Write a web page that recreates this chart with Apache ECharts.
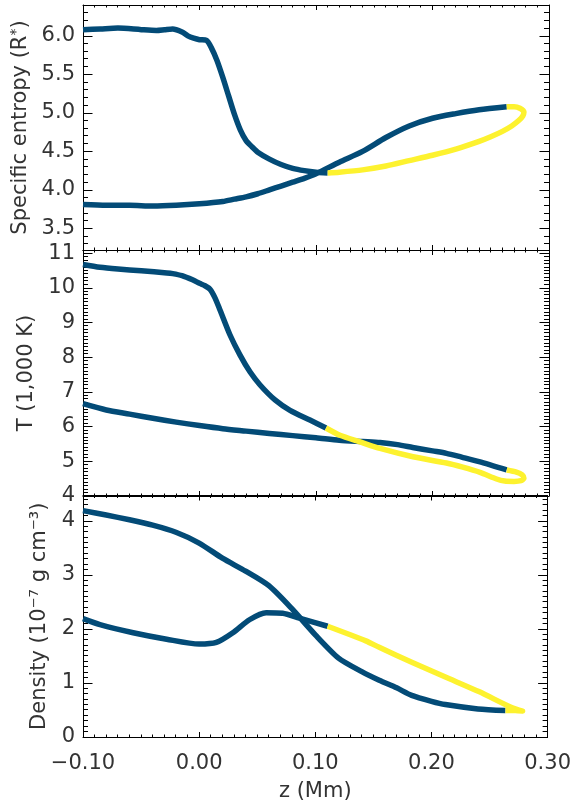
<!DOCTYPE html>
<html><head><meta charset="utf-8">
<script src="https://cdn.jsdelivr.net/npm/echarts@6/dist/echarts.min.js"></script>
<style>html,body{margin:0;padding:0;background:#fff}#chart{width:574px;height:803px}</style>
</head><body><div id="chart"></div>
<script>
// ---------- tick values ----------
const zTicks = [-0.10, 0.00, 0.10, 0.20, 0.30];
const entropyTicks = [3.5, 4.0, 4.5, 5.0, 5.5, 6.0];
const tempTicks = [4, 5, 6, 7, 8, 9, 10, 11];
const densTicks = [0, 1, 2, 3, 4];

// ---------- panel 1: specific entropy ----------
const entropyA_z = [-0.10,-0.08,-0.06,-0.04,-0.02,0.00,0.02,0.03,0.04,0.05,0.06,0.07,0.08,0.09,0.10,0.12,0.14,0.16,0.18,0.20,0.22,0.24,0.2637];
const entropyA   = [3.81,3.80,3.80,3.79,3.80,3.82,3.85,3.88,3.91,3.95,4.00,4.05,4.10,4.15,4.21,4.36,4.50,4.68,4.83,4.93,4.99,5.04,5.08];
const entropyY_z = [0.2637,0.270,0.275,0.2785,0.2775,0.274,0.268,0.26,0.25,0.24,0.22,0.20,0.18,0.16,0.14,0.12,0.11];
const entropyY   = [5.08,5.08,5.06,5.01,4.96,4.90,4.83,4.76,4.69,4.63,4.53,4.45,4.38,4.31,4.26,4.23,4.22];
const entropyB_z = [0.11,0.10,0.09,0.08,0.07,0.06,0.05,0.045,0.04,0.035,0.03,0.025,0.02,0.015,0.01,0.006,0.0,-0.005,-0.01,-0.015,-0.023,-0.03,-0.037,-0.05,-0.07,-0.085,-0.10];
const entropyB   = [4.22,4.23,4.25,4.28,4.33,4.40,4.49,4.56,4.64,4.78,4.98,5.22,5.46,5.68,5.85,5.94,5.95,5.97,6.00,6.05,6.09,6.08,6.07,6.08,6.10,6.09,6.08];

// ---------- panel 2: temperature (1,000 K) ----------
const tempA_z = [-0.10,-0.08,-0.06,-0.04,-0.02,0.00,0.02,0.04,0.06,0.08,0.10,0.12,0.14,0.155,0.17,0.183,0.20,0.212,0.225,0.24,0.2637];
const tempA   = [6.66,6.48,6.36,6.24,6.13,6.03,5.94,5.87,5.80,5.74,5.68,5.61,5.57,5.54,5.48,5.40,5.30,5.23,5.12,4.99,4.75];
const tempY_z = [0.2637,0.272,0.277,0.2785,0.276,0.27,0.262,0.255,0.2408,0.226,0.212,0.1833,0.155,0.1378,0.1206,0.1086];
const tempY   = [4.75,4.69,4.61,4.51,4.44,4.42,4.43,4.49,4.68,4.83,4.95,5.13,5.37,5.56,5.75,5.96];
const tempB_z = [0.1086,0.0948,0.0777,0.0648,0.052,0.0433,0.0348,0.0262,0.0176,0.0133,0.009,0.0047,0.0,-0.006,-0.015,-0.023,-0.028,-0.05,-0.07,-0.0854,-0.10];
const tempB   = [5.96,6.19,6.47,6.77,7.20,7.58,8.06,8.64,9.36,9.71,9.96,10.06,10.13,10.23,10.35,10.41,10.43,10.49,10.54,10.59,10.67];

// ---------- panel 3: density (1e-7 g cm^-3) ----------
const densA_z = [-0.10,-0.08,-0.06,-0.04,-0.02,0.00,0.02,0.04,0.06,0.08,0.10,0.12,0.14,0.155,0.17,0.183,0.20,0.212,0.24,0.2637];
const densA   = [4.19,4.11,4.02,3.92,3.79,3.59,3.31,3.07,2.80,2.37,1.89,1.46,1.21,1.05,0.91,0.77,0.66,0.60,0.52,0.49];
const densY_z = [0.2637,0.272,0.2785,0.2695,0.2408,0.212,0.1835,0.155,0.1435,0.1106];
const densY   = [0.49,0.49,0.48,0.54,0.84,1.11,1.38,1.66,1.78,2.05];
const densB_z = [0.1106,0.0863,0.0719,0.0577,0.0433,0.029,0.0148,0.0,-0.028,-0.0568,-0.0854,-0.10];
const densB   = [2.05,2.20,2.29,2.30,2.17,1.93,1.75,1.72,1.81,1.93,2.08,2.19];

// ---------- helpers ----------
const FONT = 'DejaVu Sans', TXT = '#333', FS = 21;
const BLUE = '#034b77', YELLOW = '#fdf22f';
const Z_MIN = -0.1, Z_MAX = 0.3;
function zip(a, b) { return a.map((v, i) => [v, b[i]]); }
function minors(min, max, step, majors) {
  const out = [];
  const n0 = Math.ceil(min / step - 1e-6), n1 = Math.floor(max / step + 1e-6);
  for (let n = n0; n <= n1; n++) {
    const v = Math.round(n * step * 10000) / 10000;
    if (!majors.some(m => Math.abs(m - v) < 1e-6)) out.push(v);
  }
  return out;
}
const fmtZ = v => (v < -1e-9 ? '\u2212' : '') + Math.abs(v).toFixed(2);
const crisp = v => Math.round(v - 0.5) + 0.5;

const panels = [
  { top: 5, height: 245, min: 3.22, max: 6.40, ticks: entropyTicks, step: 0.1, fmt: v => v.toFixed(1),
    name: 'Specific entropy (R{s|*})', gap: 50,
    series: [[entropyA_z, entropyA, BLUE], [entropyB_z, entropyB, BLUE], [entropyY_z, entropyY, YELLOW]] },
  { top: 250, height: 246, min: 4.0, max: 11.09, ticks: tempTicks, step: 0.1, fmt: v => String(Math.round(v)),
    name: 'T (1,000 K)', gap: 46,
    series: [[tempA_z, tempA, BLUE], [tempB_z, tempB, BLUE], [tempY_z, tempY, YELLOW]] },
  { top: 495.5, height: 243.5, min: 0, max: 4.47, ticks: densTicks, step: 0.1, fmt: v => String(Math.round(v)),
    name: 'Density (10\u207B\u2077 g cm\u207B\u00B3)', gap: 33,
    series: [[densA_z, densA, BLUE], [densB_z, densB, BLUE], [densY_z, densY, YELLOW]] }
];

const zMinor = minors(Z_MIN, Z_MAX, 0.01, zTicks);
const grid = [], xAxis = [], yAxis = [], series = [];
const line = { color: '#000', width: 1 };
const txt = { fontFamily: FONT, fontSize: FS, color: TXT };
const tickStyle = { stroke: '#000', lineWidth: 1 };

panels.forEach((p, i) => {
  const last = i === panels.length - 1;
  grid.push({ left: 83, right: 25, top: p.top, height: p.height });
  const bx = { gridIndex: i, type: 'value', min: Z_MIN, max: Z_MAX, splitLine: { show: false } };
  const by = { gridIndex: i, type: 'value', min: p.min, max: p.max, splitLine: { show: false } };

  xAxis.push(Object.assign({}, bx, {
    position: 'bottom',
    axisLine: { show: true, onZero: false, lineStyle: line },
    axisTick: { show: true, inside: true, length: 5, customValues: zTicks, lineStyle: line },
    axisLabel: last ? Object.assign({ show: true, customValues: zTicks, formatter: fmtZ, margin: 16 }, txt)
                    : { show: false },
    name: last ? 'z (Mm)' : '', nameLocation: 'middle', nameGap: 44, nameTextStyle: txt
  }));
  xAxis.push(Object.assign({}, bx, {
    position: 'top',
    axisLine: { show: true, onZero: false, lineStyle: line },
    axisTick: { show: true, inside: true, length: 5, customValues: zTicks, lineStyle: line },
    axisLabel: { show: false }
  }));
  yAxis.push(Object.assign({}, by, {
    position: 'left',
    axisLine: { show: true, onZero: false, lineStyle: line },
    axisTick: { show: true, inside: true, length: 9.5, customValues: p.ticks, lineStyle: line },
    axisLabel: Object.assign({ show: true, customValues: p.ticks, formatter: p.fmt, margin: 8 }, txt),
    name: p.name, nameLocation: 'middle', nameRotate: 90, nameGap: p.gap,
    nameTextStyle: Object.assign({}, txt, {
      rich: { s: { fontFamily: FONT, fontSize: 14, color: TXT, verticalAlign: 'top' } } })
  }));
  yAxis.push(Object.assign({}, by, {
    position: 'right',
    axisLine: { show: true, onZero: false, lineStyle: line },
    axisTick: { show: true, inside: true, length: 9.5, customValues: p.ticks, lineStyle: line },
    axisLabel: { show: false }
  }));

  // minor ticks, placed through the axes' own scales
  const yMinor = minors(p.min, p.max, p.step, p.ticks);
  series.push({
    type: 'custom', xAxisIndex: 2 * i, yAxisIndex: 2 * i, silent: true, z: 1, clip: false,
    data: yMinor.map(v => [Z_MIN, v]),
    renderItem: (params, api) => {
      const v = api.value(1);
      const a = api.coord([Z_MIN, v]), b = api.coord([Z_MAX, v]);
      const y = crisp(a[1]);
      return { type: 'group', children: [
        { type: 'line', shape: { x1: a[0], y1: y, x2: a[0] + 5, y2: y }, style: tickStyle },
        { type: 'line', shape: { x1: b[0] - 5, y1: y, x2: b[0], y2: y }, style: tickStyle }
      ] };
    }
  });
  series.push({
    type: 'custom', xAxisIndex: 2 * i, yAxisIndex: 2 * i, silent: true, z: 1, clip: false,
    data: zMinor.map(v => [v, p.min]),
    renderItem: (params, api) => {
      const v = api.value(0);
      const a = api.coord([v, p.min]), b = api.coord([v, p.max]);
      const x = crisp(a[0]);
      return { type: 'group', children: [
        { type: 'line', shape: { x1: x, y1: a[1], x2: x, y2: a[1] - 2.5 }, style: tickStyle },
        { type: 'line', shape: { x1: x, y1: b[1], x2: x, y2: b[1] + 2.5 }, style: tickStyle }
      ] };
    }
  });

  p.series.forEach(([zs, vs, col]) => {
    series.push({
      type: 'line', xAxisIndex: 2 * i, yAxisIndex: 2 * i,
      data: zip(zs, vs), symbol: 'none', smooth: 0.25,
      lineStyle: { color: col, width: 5.5, cap: 'butt', join: 'round' },
      z: col === YELLOW ? 4 : 3, silent: true
    });
  });
});

const chart = echarts.init(document.getElementById('chart'), null, { renderer: 'canvas' });
chart.setOption({ animation: false, backgroundColor: '#fff', grid, xAxis, yAxis, series });
</script>
</body></html>
